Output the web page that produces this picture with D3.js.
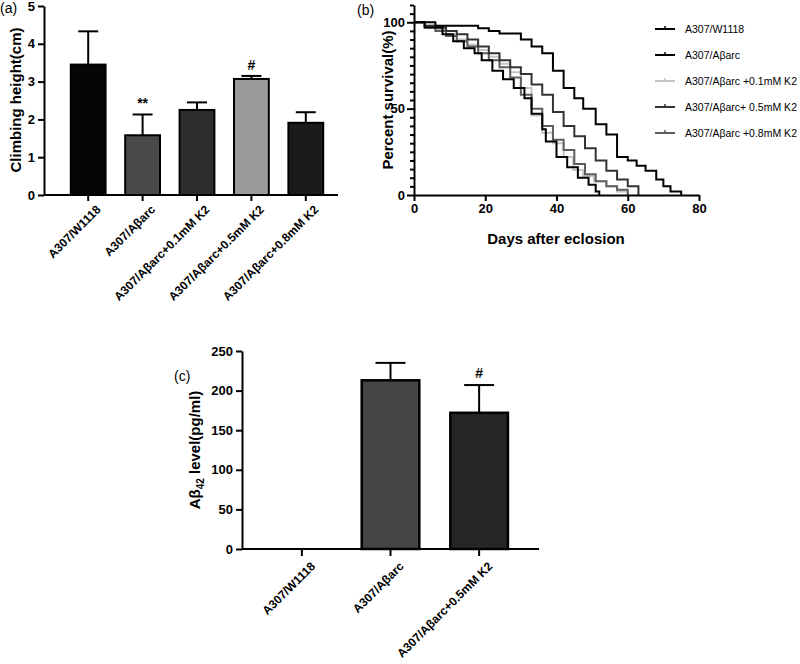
<!DOCTYPE html>
<html>
<head>
<meta charset="utf-8">
<script src="https://cdn.jsdelivr.net/npm/d3@7"></script>
<style>
  body { margin: 0; background: #fff; }
  svg { font-family: Arial, "Liberation Sans", sans-serif; }
  .bold text { font-weight: bold; }
</style>
</head>
<body>
<div id="chart"></div>
<script>
// ---- data ----
// panel (a) climbing assay
const groupsA = ["A307/W1118", "A307/Aβarc", "A307/Aβarc+0.1mM K2", "A307/Aβarc+0.5mM K2", "A307/Aβarc+0.8mM K2"];
const climbMean = [3.45, 1.58, 2.25, 3.07, 1.91];
const climbErr = [0.88, 0.55, 0.2, 0.08, 0.28];
const climbMarks = ["", "**", "", "#", ""];
const climbFill = ["#050505", "#4a4a4a", "#2d2d2d", "#9b9b9b", "#1b1b1b"];

// panel (b) survival curves (step times in days, percent survival)
const survNames = ["A307/W1118", "A307/Aβarc", "A307/Aβarc +0.1mM K2", "A307/Aβarc+ 0.5mM K2", "A307/Aβarc +0.8mM K2"];
const survColor = ["#000", "#000", "#c4c4c4", "#333", "#5e5e5e"];
const daysW = [0, 6, 18, 21, 24, 30, 33, 36, 39, 42, 45, 47.5, 51, 54, 57, 60, 62.5, 65, 68, 70, 72, 75];
const survW = [100, 98, 96.5, 95, 93.5, 90, 86, 82, 72, 62, 56, 50, 41, 35, 22, 20, 17, 14, 9, 5, 2, 0];
const daysArc = [0, 3, 8, 11, 14, 17, 19, 22, 25, 28, 31, 33, 36, 37, 40, 43, 46, 49, 51, 52];
const survArc = [100, 97, 93, 89, 85, 82, 78, 72, 67, 62, 56, 47, 38, 31, 22, 16, 10, 6, 2, 0];
const days01 = [0, 3, 6, 9, 12, 15, 18, 21, 24, 27, 30, 33, 36, 39, 42, 44.7, 47.5, 50.5, 54, 57, 60];
const surv01 = [100, 98, 96, 93, 90, 87, 84, 80, 76, 71, 62, 46, 36, 30, 22, 14.5, 11, 8, 5, 2, 0];
const days05 = [0, 3, 6, 9, 12, 15, 18, 21, 24, 27, 30, 33, 36, 39, 42, 45, 48, 51, 54, 57, 60, 63];
const surv05 = [100, 98, 97, 95, 93, 90, 86, 82, 78, 74, 70, 64, 58, 48, 40, 34, 27, 20, 14, 9, 5, 0];
const days08 = [0, 3, 6, 9, 12, 15, 18, 21, 24, 27, 30, 33, 36, 39, 42, 45, 48, 51, 54, 57, 60];
const surv08 = [100, 97, 95, 92, 89, 86, 82, 78, 74, 68, 58, 50, 40, 32, 26, 18, 12, 8, 5, 3, 0];
const survDays = [daysW, daysArc, days01, days05, days08];
const survVals = [survW, survArc, surv01, surv05, surv08];

// panel (c) Abeta42 ELISA
const groupsC = ["A307/W1118", "A307/Aβarc", "A307/Aβarc+0.5mM K2"];
const abMean = [0, 213, 172];
const abErr = [0, 22, 35];
const abMarks = ["", "", "#"];
const abFill = ["#fff", "#454545", "#262626"];

const svg = d3.select("#chart").append("svg")
  .attr("width", 800).attr("height", 664);

// ---------- panel (a) ----------
const ax = {left: 44, right: 338, top: 6, bottom: 195};
const xA = d3.scaleBand().domain(groupsA).range([ax.left + 17, ax.right - 5]).paddingInner(0.36).paddingOuter(0.18);
const yA = d3.scaleLinear().domain([0, 5]).range([ax.bottom, ax.top]);

const gA = svg.append("g");
gA.selectAll("line.err").data(groupsA).enter().append("line")
  .attr("x1", d => xA(d) + xA.bandwidth() / 2).attr("x2", d => xA(d) + xA.bandwidth() / 2)
  .attr("y1", (d, i) => yA(climbMean[i])).attr("y2", (d, i) => yA(climbMean[i] + climbErr[i]))
  .attr("stroke", "#000").attr("stroke-width", 2);
gA.selectAll("line.cap").data(groupsA).enter().append("line")
  .attr("x1", d => xA(d) + xA.bandwidth() / 2 - 10).attr("x2", d => xA(d) + xA.bandwidth() / 2 + 10)
  .attr("y1", (d, i) => yA(climbMean[i] + climbErr[i])).attr("y2", (d, i) => yA(climbMean[i] + climbErr[i]))
  .attr("stroke", "#000").attr("stroke-width", 2);
gA.selectAll("rect").data(groupsA).enter().append("rect")
  .attr("x", d => xA(d)).attr("width", xA.bandwidth())
  .attr("y", (d, i) => yA(climbMean[i])).attr("height", (d, i) => yA(0) - yA(climbMean[i]))
  .attr("fill", (d, i) => climbFill[i]).attr("stroke", "#000").attr("stroke-width", 2);
gA.selectAll("text.mark").data(groupsA).enter().append("text")
  .attr("x", d => xA(d) + xA.bandwidth() / 2)
  .attr("y", (d, i) => yA(climbMean[i] + climbErr[i]) - 6)
  .attr("text-anchor", "middle").attr("font-size", 14).attr("font-weight", "bold")
  .text((d, i) => climbMarks[i]);

gA.append("g").attr("class", "bold")
  .attr("transform", `translate(${ax.left},0)`)
  .call(d3.axisLeft(yA).ticks(5).tickSize(6).tickSizeOuter(0))
  .call(g => g.selectAll("text").attr("font-size", 13).attr("fill", "#000"))
  .call(g => g.selectAll("line,path").attr("stroke", "#000").attr("stroke-width", 2));
gA.append("g").attr("class", "bold")
  .attr("transform", `translate(0,${ax.bottom})`)
  .call(d3.axisBottom(xA).tickSize(6).tickSizeOuter(0))
  .call(g => g.select("path").attr("d", `M${ax.left},0H${ax.right}`))
  .call(g => g.selectAll("line,path").attr("stroke", "#000").attr("stroke-width", 2))
  .call(g => g.selectAll("text").attr("font-size", 12).attr("fill", "#000")
    .attr("text-anchor", "end").attr("dy", "0.35em")
    .attr("transform", "translate(4,6) rotate(-45)"));
svg.append("text").attr("transform", "translate(21,100) rotate(-90)")
  .attr("text-anchor", "middle").attr("font-size", 15).attr("font-weight", "bold")
  .text("Climbing height(cm)");
svg.append("text").attr("x", 0).attr("y", 13).attr("font-size", 14).text("(a)");

// ---------- panel (b) ----------
const bx = {left: 414, right: 699, top: 5, bottom: 195};
const xB = d3.scaleLinear().domain([0, 80]).range([bx.left, bx.right]);
const yB = d3.scaleLinear().domain([0, 110]).range([bx.bottom, bx.top + 0]);
const gB = svg.append("g");
const line = d3.line().curve(d3.curveStepAfter).x(d => xB(d[0])).y(d => yB(d[1]));
[2, 4, 3, 1, 0].forEach(k => {
  gB.append("path")
    .attr("d", line(survDays[k].map((t, i) => [t, survVals[k][i]])))
    .attr("fill", "none").attr("stroke", survColor[k]).attr("stroke-width", 2);
});
gB.append("g").attr("class", "bold")
  .attr("transform", `translate(${bx.left},0)`)
  .call(d3.axisLeft(yB).tickValues(d3.range(0, 111, 5)).tickSize(4).tickSizeOuter(0)
    .tickFormat(d => d % 50 === 0 ? d : ""))
  .call(g => g.selectAll(".tick line").filter(d => d % 50 === 0).attr("x2", -7))
  .call(g => g.selectAll("text").attr("font-size", 13).attr("fill", "#000").attr("x", -9))
  .call(g => g.selectAll("line,path").attr("stroke", "#000").attr("stroke-width", 2));
gB.append("g").attr("class", "bold")
  .attr("transform", `translate(0,${bx.bottom})`)
  .call(d3.axisBottom(xB).tickValues([0, 20, 40, 60, 80]).tickSize(6).tickSizeOuter(0))
  .call(g => g.selectAll("text").attr("font-size", 13).attr("fill", "#000"))
  .call(g => g.selectAll("line,path").attr("stroke", "#000").attr("stroke-width", 2));
svg.append("text").attr("x", 556).attr("y", 244)
  .attr("text-anchor", "middle").attr("font-size", 15).attr("font-weight", "bold")
  .text("Days after eclosion");
svg.append("text").attr("transform", "translate(393,100) rotate(-90)")
  .attr("text-anchor", "middle").attr("font-size", 15).attr("font-weight", "bold")
  .text("Percent survival(%)");
svg.append("text").attr("x", 357).attr("y", 15).attr("font-size", 14).text("(b)");

const legY = d3.scalePoint().domain(survNames).range([29, 133]);
const leg = svg.append("g");
survNames.forEach((n, k) => {
  const y = legY(n);
  leg.append("line").attr("x1", 655).attr("x2", 675).attr("y1", y).attr("y2", y)
    .attr("stroke", survColor[k]).attr("stroke-width", 2);
  leg.append("line").attr("x1", 665).attr("x2", 665).attr("y1", y - 3).attr("y2", y)
    .attr("stroke", survColor[k]).attr("stroke-width", 1.5);
  leg.append("text").attr("x", 685).attr("y", y).attr("dy", "0.35em")
    .attr("font-size", 10.5).attr("textLength", null).text(n);
});

// ---------- panel (c) ----------
const cx = {left: 242, right: 539, top: 351, bottom: 549};
const xC = d3.scaleBand().domain(groupsC).range([cx.left + 16, cx.right - 16]).paddingInner(0.35).paddingOuter(0.17);
const yC = d3.scaleLinear().domain([0, 250]).range([cx.bottom, cx.top]);
const gC = svg.append("g");
gC.selectAll("line.err").data(groupsC).enter().append("line")
  .attr("x1", d => xC(d) + xC.bandwidth() / 2).attr("x2", d => xC(d) + xC.bandwidth() / 2)
  .attr("y1", (d, i) => yC(abMean[i])).attr("y2", (d, i) => yC(abMean[i] + abErr[i]))
  .attr("stroke", "#000").attr("stroke-width", 2);
gC.selectAll("line.cap").data(groupsC.filter((d, i) => abErr[i] > 0)).enter().append("line")
  .attr("x1", d => xC(d) + xC.bandwidth() / 2 - 15).attr("x2", d => xC(d) + xC.bandwidth() / 2 + 15)
  .attr("y1", d => yC(abMean[groupsC.indexOf(d)] + abErr[groupsC.indexOf(d)]))
  .attr("y2", d => yC(abMean[groupsC.indexOf(d)] + abErr[groupsC.indexOf(d)]))
  .attr("stroke", "#000").attr("stroke-width", 2);
gC.selectAll("rect").data(groupsC.filter((d, i) => abMean[i] > 0)).enter().append("rect")
  .attr("x", d => xC(d)).attr("width", xC.bandwidth())
  .attr("y", d => yC(abMean[groupsC.indexOf(d)]))
  .attr("height", d => yC(0) - yC(abMean[groupsC.indexOf(d)]))
  .attr("fill", d => abFill[groupsC.indexOf(d)]).attr("stroke", "#000").attr("stroke-width", 2.5);
gC.selectAll("text.mark").data(groupsC).enter().append("text")
  .attr("x", d => xC(d) + xC.bandwidth() / 2)
  .attr("y", (d, i) => yC(abMean[i] + abErr[i]) - 7)
  .attr("text-anchor", "middle").attr("font-size", 14).attr("font-weight", "bold")
  .text((d, i) => abMarks[i]);
gC.append("g").attr("class", "bold")
  .attr("transform", `translate(${cx.left},0)`)
  .call(d3.axisLeft(yC).tickValues(d3.range(0, 251, 50)).tickSize(6).tickSizeOuter(0))
  .call(g => g.selectAll("text").attr("font-size", 13).attr("fill", "#000"))
  .call(g => g.selectAll("line,path").attr("stroke", "#000").attr("stroke-width", 2));
gC.append("g").attr("class", "bold")
  .attr("transform", `translate(0,${cx.bottom})`)
  .call(d3.axisBottom(xC).tickSize(7).tickSizeOuter(0))
  .call(g => g.select("path").attr("d", `M${cx.left},0H${cx.right}`))
  .call(g => g.selectAll("line,path").attr("stroke", "#000").attr("stroke-width", 2))
  .call(g => g.selectAll("text").attr("font-size", 12).attr("fill", "#000")
    .attr("text-anchor", "end").attr("dy", "0.35em")
    .attr("transform", "translate(4,8) rotate(-45)"));
const yl = svg.append("text").attr("transform", "translate(200,450) rotate(-90)")
  .attr("text-anchor", "middle").attr("font-size", 15).attr("font-weight", "bold");
yl.append("tspan").text("Aβ");
yl.append("tspan").attr("font-size", 10).attr("dy", 4).text("42");
yl.append("tspan").attr("dy", -4).text(" level(pg/ml)");
svg.append("text").attr("x", 174).attr("y", 381).attr("font-size", 14).text("(c)");
</script>
</body>
</html>
